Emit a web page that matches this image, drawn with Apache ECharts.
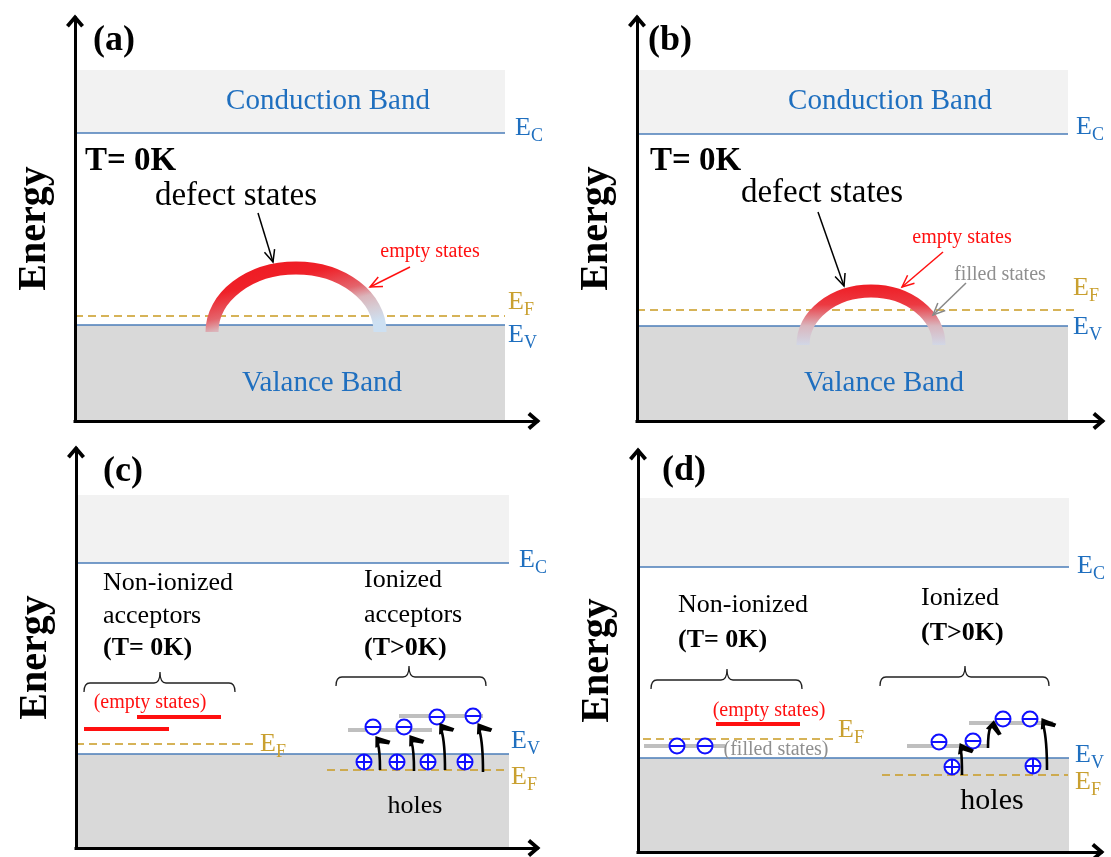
<!DOCTYPE html>
<html><head><meta charset="utf-8">
<script src="https://cdn.jsdelivr.net/npm/echarts@6/dist/echarts.min.js"></script>
<style>html,body{margin:0;padding:0;background:#fff}#c{width:1111px;height:857px}</style>
</head><body><div id="c"></div>
<script>
// ================= DATA (panel-local units: position x, energy y) =================
const panelLetters = ['(a)', '(b)', '(c)', '(d)'];
const letterAnchor = [[18, 380], [11, 380], [27, 376], [24, 381]];
const conductionTop = [351, 351, 353, 354];
const EC = [288, 287, 285, 285];
const EV = [96, 95, 94, 94];
const bandRight = [430, 431, 433, 431];
const ecLabel = [[440, 293], [439, 294], [443, 288], [439, 286]];
const evLabel = [[433, 86], [436, 94], [435, 107], [437, 97]];
const fermiLevels = [[0, 0, 430, 105], [1, 0, 437, 111], [2, 0, 182, 104], [2, 251, 433, 78], [3, 5, 199, 113], [3, 244, 430, 77]];
const efLabel = [[0, 433, 119], [1, 436, 133], [2, 184, 104], [2, 435, 71], [3, 200, 122], [3, 437, 70]];
const bandNames = [[0, 253, 320, 'Conduction Band'], [0, 247, 38, 'Valance Band'], [1, 253, 320, 'Conduction Band'], [1, 247, 38, 'Valance Band']];
const tempTitles = [[0, 10, 260, 'T= 0K'], [1, 13, 260, 'T= 0K']];
const defectTitles = [[0, 161, 225, 'defect states'], [1, 185, 228, 'defect states']];
const defectArcs = [[0, 221, 89, 84, 64], [1, 234, 76, 68, 54]];
const emptyNotes = [[0, 355, 169, 'empty states'], [1, 325, 183, 'empty states'], [2, 74, 145, '(empty states)'], [3, 131, 141, '(empty states)']];
const filledNotes = [[1, 363, 146, 'filled states'], [3, 138, 102, '(filled states)']];
const blackPointers = [[0, 183, 208, 198, 159], [1, 181, 209, 207, 135]];
const redPointers = [[0, 335, 154, 295, 134], [1, 306, 169, 265, 134]];
const grayPointers = [[1, 329, 138, 296, 106]];
const acceptorLines = [[2, 27, 265, 'Non-ionized'], [2, 27, 232, 'acceptors'], [2, 288, 268, 'Ionized'], [2, 288, 233, 'acceptors'], [3, 40, 247, 'Non-ionized'], [3, 283, 254, 'Ionized']];
const tempLines = [[2, 27, 200, '(T= 0K)'], [2, 288, 200, '(T>0K)'], [3, 40, 212, '(T= 0K)'], [3, 283, 219, '(T>0K)']];
const braces = [[2, 8, 159, 84, 165], [2, 260, 410, 333, 171], [3, 13, 164, 89, 172], [3, 242, 411, 327, 175]];
const emptyLevels = [[2, 8, 93, 119], [2, 61, 145, 131], [3, 78, 162, 128]];
const filledLevels = [[2, 272, 356, 118], [2, 323, 407, 132], [3, 6, 87, 106], [3, 269, 350, 106], [3, 331, 415, 129]];
const electrons = [[2, 297, 121], [2, 328, 121], [2, 361, 131], [2, 397, 132], [3, 39, 106], [3, 67, 106], [3, 301, 110], [3, 335, 111], [3, 365, 133], [3, 392, 133]];
const holes = [[2, 288, 86], [2, 321, 86], [2, 352, 86], [2, 389, 86], [3, 314, 85], [3, 395, 86]];
const excitations = [[2, 304, 78, 300, 110], [2, 338, 77, 334, 111], [2, 369, 78, 364, 123], [2, 407, 76, 402, 123], [3, 324, 77, 322, 107], [3, 350, 104, 355, 130], [3, 409, 82, 404, 132]];
const holesLabels = [[2, 339, 42, 'holes'], [3, 354, 51, 'holes']];
const axisTitle = 'Energy';

// ================= STYLE / LAYOUT =================
const SERIF = '"Liberation Serif", "Times New Roman", serif';
const GRIDS = [
  { left: 75, top: 18, width: 462, height: 403 },
  { left: 637, top: 18, width: 465, height: 403 },
  { left: 76, top: 449, width: 461, height: 399 },
  { left: 638, top: 451, width: 463, height: 401 }
];
const BLUE_TEXT = '#1f6fbf', BLUE_LINE = '#4a7db8', GOLD = '#c99a22', GOLD_TEXT = '#c9a030';
const RED = '#ff1010', GRAY_TEXT = '#8f8f8f', GRAY_BAR = '#bfbfbf', CHARGE = '#1010ff';
const holesFont = [0, 0, 26, 30];
const CHEVRON = 'path://M50,0 L100,58 L84,72 L50,32 L16,72 L0,58 Z';

const arcGradients = [
  new echarts.graphic.LinearGradient(0.45, 0, 0.55, 1, [
    { offset: 0, color: '#ef1c24' }, { offset: 0.2, color: '#ef2129' }, { offset: 0.5, color: '#e4646c' },
    { offset: 0.65, color: '#dbb4ba' }, { offset: 0.82, color: '#d6cdd5' }, { offset: 1, color: '#cde0f2' }]),
  new echarts.graphic.LinearGradient(0, 0, 0, 1, [
    { offset: 0, color: '#ef1c24' }, { offset: 0.3, color: '#ec3a42' }, { offset: 0.62, color: '#d9b7bf' },
    { offset: 1, color: '#cfe2f3' }])
];

function rectEl(api, x1, y1, x2, y2, fill) {
  const a = api.coord([x1, y2]), b = api.coord([x2, y1]);
  return { type: 'rect', shape: { x: a[0], y: a[1], width: b[0] - a[0], height: b[1] - a[1] }, style: { fill } };
}
function lineEl(api, x1, y1, x2, y2, stroke, lw, dash) {
  const a = api.coord([x1, y1]), b = api.coord([x2, y2]);
  const st = { stroke, lineWidth: lw };
  if (dash) st.lineDash = dash;
  return { type: 'line', shape: { x1: a[0], y1: a[1], x2: b[0], y2: b[1] }, style: st };
}
function textEl(api, x, y, text, font, fill, align) {
  const c = api.coord([x, y]);
  const al = align || 'center';
  return { type: 'text', x: c[0], y: c[1], style: { text, font, fill, align: al, textAlign: al, verticalAlign: 'middle', textVerticalAlign: 'middle' } };
}
function levelLabel(api, x, y, sub, color) {
  const c = api.coord([x, y]);
  return { type: 'group', children: [
    { type: 'text', x: c[0], y: c[1], style: { text: 'E', font: '26px ' + SERIF, fill: color, align: 'left', textAlign: 'left', verticalAlign: 'middle', textVerticalAlign: 'middle' } },
    { type: 'text', x: c[0] + 16, y: c[1] + 8, style: { text: sub, font: '18px ' + SERIF, fill: color, align: 'left', textAlign: 'left', verticalAlign: 'middle', textVerticalAlign: 'middle' } }
  ] };
}
function pointerEl(api, it, color) {
  const s = api.coord([it[1], it[2]]), e = api.coord([it[3], it[4]]);
  const ang = Math.atan2(e[1] - s[1], e[0] - s[0]);
  const L = 13, w = 0.42;
  const h1 = [e[0] - L * Math.cos(ang - w), e[1] - L * Math.sin(ang - w)];
  const h2 = [e[0] - L * Math.cos(ang + w), e[1] - L * Math.sin(ang + w)];
  return { type: 'group', children: [
    { type: 'line', shape: { x1: s[0], y1: s[1], x2: e[0], y2: e[1] }, style: { stroke: color, lineWidth: 1.5 } },
    { type: 'polyline', shape: { points: [h1, e, h2] }, style: { stroke: color, lineWidth: 1.5, fill: 'none' } }
  ] };
}
function chargeEl(api, it, plus) {
  const c = api.coord([it[1], it[2]]); const r = 7.5;
  const ch = [
    { type: 'circle', shape: { cx: c[0], cy: c[1], r }, style: { fill: '#fff', stroke: CHARGE, lineWidth: 2 } },
    { type: 'line', shape: { x1: c[0] - r, y1: c[1], x2: c[0] + r, y2: c[1] }, style: { stroke: CHARGE, lineWidth: 2 } }
  ];
  if (plus) ch.push({ type: 'line', shape: { x1: c[0], y1: c[1] - r, x2: c[0], y2: c[1] + r }, style: { stroke: CHARGE, lineWidth: 2 } });
  return { type: 'group', children: ch };
}
function exciteEl(api, it) {
  const b = api.coord([it[1], it[2]]), t = api.coord([it[3], it[4]]);
  const c = [b[0], t[1] + 0.4 * (b[1] - t[1])];
  let ux = t[0] - c[0], uy = t[1] - c[1]; const n = Math.hypot(ux, uy); ux /= n; uy /= n;
  const nx = -uy, ny = ux;
  const P = (a, q) => [t[0] + ux * a + nx * q, t[1] + uy * a + ny * q];
  const head = [P(2, 0), P(-7, 13), P(-10, 10.5), P(-6, 2), P(-9, -1.2), P(-9, -3.5)];
  const se = P(-6, 0);
  return { type: 'group', children: [
    { type: 'path', shape: { pathData: 'M' + b[0] + ',' + b[1] + ' Q' + c[0] + ',' + c[1] + ' ' + se[0] + ',' + se[1] }, style: { stroke: '#000', lineWidth: 2.6, fill: 'none' } },
    { type: 'polygon', shape: { points: head }, style: { fill: '#000' } }
  ] };
}
function braceEl(api, it) {
  const l = api.coord([it[1], it[4]]), r = api.coord([it[2], it[4]]), t = api.coord([it[3], it[4]]);
  const y = l[1], yb = y + 9, yt = y - 11, q = 6;
  const d = 'M' + l[0] + ',' + yb + ' Q' + l[0] + ',' + y + ' ' + (l[0] + q) + ',' + y +
    ' L' + (t[0] - q) + ',' + y + ' Q' + t[0] + ',' + y + ' ' + t[0] + ',' + yt +
    ' Q' + t[0] + ',' + y + ' ' + (t[0] + q) + ',' + y +
    ' L' + (r[0] - q) + ',' + y + ' Q' + r[0] + ',' + y + ' ' + r[0] + ',' + yb;
  return { type: 'path', shape: { pathData: d }, style: { stroke: '#222', lineWidth: 1.3, fill: 'none' } };
}
function arcEl(api, it, p) {
  const c = api.coord([it[1], it[2]]);
  const rx = api.size([it[3], 0])[0], ry = api.size([0, it[4]])[1];
  const k = 0.5523, cx = c[0], cy = c[1];
  const d = 'M' + (cx - rx) + ',' + cy + ' C' + (cx - rx) + ',' + (cy - k * ry) + ' ' + (cx - k * rx) + ',' + (cy - ry) + ' ' + cx + ',' + (cy - ry) +
    ' C' + (cx + k * rx) + ',' + (cy - ry) + ' ' + (cx + rx) + ',' + (cy - k * ry) + ' ' + (cx + rx) + ',' + cy;
  return { type: 'path', shape: { pathData: d }, style: { stroke: arcGradients[p], lineWidth: 13, fill: 'none' } };
}

const series = [];
function addSeries(items, z, build) {
  for (let p = 0; p < 4; p++) {
    const list = items.filter(it => it[0] === p);
    if (!list.length) continue;
    series.push({
      type: 'custom', xAxisIndex: p, yAxisIndex: p, z, silent: true, animation: false, clip: false,
      data: list.map(it => [it[1], it[2]]),
      renderItem: (params, api) => build(list[params.dataIndex], api, p)
    });
  }
}

const bandRows = EC.map((e, p) => [p, 2, e]);
addSeries(bandRows, 1, (it, api, p) => ({ type: 'group', children: [
  rectEl(api, 2, EC[p], bandRight[p], conductionTop[p], '#f2f2f2'),
  rectEl(api, 2, 0, bandRight[p], EV[p], '#d9d9d9')
] }));
addSeries(bandRows, 2, (it, api, p) => ({ type: 'group', children: [
  lineEl(api, 0, EC[p], bandRight[p], EC[p], BLUE_LINE, 1.6),
  lineEl(api, 0, EV[p], bandRight[p], EV[p], BLUE_LINE, 1.6)
] }));
addSeries(fermiLevels, 2, (it, api) => lineEl(api, it[1], it[3], it[2], it[3], GOLD, 1.6, [8, 5]));
addSeries(ecLabel.map((l, p) => [p, l[0], l[1]]), 7, (it, api) => levelLabel(api, it[1], it[2], 'C', BLUE_TEXT));
addSeries(evLabel.map((l, p) => [p, l[0], l[1]]), 7, (it, api) => levelLabel(api, it[1], it[2], 'V', BLUE_TEXT));
addSeries(efLabel, 7, (it, api) => levelLabel(api, it[1], it[2], 'F', GOLD_TEXT));
addSeries(letterAnchor.map((l, p) => [p, l[0], l[1]]), 7, (it, api, p) => textEl(api, it[1], it[2], panelLetters[p], 'bold 36px ' + SERIF, '#000', 'left'));
addSeries(bandNames, 7, (it, api) => textEl(api, it[1], it[2], it[3], '29px ' + SERIF, BLUE_TEXT));
addSeries(tempTitles, 7, (it, api) => textEl(api, it[1], it[2], it[3], 'bold 33px ' + SERIF, '#000', 'left'));
addSeries(defectTitles, 7, (it, api) => textEl(api, it[1], it[2], it[3], '33px ' + SERIF, '#000'));
addSeries(defectArcs, 3, (it, api, p) => arcEl(api, it, p));
addSeries(emptyNotes, 7, (it, api) => textEl(api, it[1], it[2], it[3], '20px ' + SERIF, RED));
addSeries(filledNotes, 7, (it, api) => textEl(api, it[1], it[2], it[3], '20px ' + SERIF, GRAY_TEXT));
addSeries(blackPointers, 6, (it, api) => pointerEl(api, it, '#000'));
addSeries(redPointers, 6, (it, api) => pointerEl(api, it, RED));
addSeries(grayPointers, 6, (it, api) => pointerEl(api, it, '#888'));
addSeries(acceptorLines, 7, (it, api) => textEl(api, it[1], it[2], it[3], '26px ' + SERIF, '#000', 'left'));
addSeries(tempLines, 7, (it, api) => textEl(api, it[1], it[2], it[3], 'bold 26px ' + SERIF, '#000', 'left'));
addSeries(braces, 6, (it, api) => braceEl(api, it));
addSeries(emptyLevels, 3, (it, api) => lineEl(api, it[1], it[3], it[2], it[3], RED, 4));
addSeries(filledLevels, 3, (it, api) => lineEl(api, it[1], it[3], it[2], it[3], GRAY_BAR, 4));
addSeries(electrons, 5, (it, api) => chargeEl(api, it, false));
addSeries(holes, 5, (it, api) => chargeEl(api, it, true));
addSeries(excitations, 6, (it, api) => exciteEl(api, it));
addSeries(holesLabels, 7, (it, api, p) => textEl(api, it[1], it[2], it[3], holesFont[p] + 'px ' + SERIF, '#000'));

const axisLineStyle = { show: true, onZero: false, symbol: ['none', CHEVRON], symbolSize: [18, 13], symbolOffset: [0, -3], lineStyle: { color: '#000', width: 3, cap: 'square' } };
const option = {
  backgroundColor: '#fff',
  animation: false,
  grid: GRIDS.map(g => Object.assign({ containLabel: false }, g)),
  xAxis: GRIDS.map((g, i) => ({ gridIndex: i, type: 'value', min: 0, max: g.width, z: 10,
    axisLine: axisLineStyle, axisTick: { show: false }, axisLabel: { show: false }, splitLine: { show: false } })),
  yAxis: GRIDS.map((g, i) => ({ gridIndex: i, type: 'value', min: 0, max: g.height, z: 10,
    name: axisTitle, nameLocation: 'middle', nameGap: 20, nameRotate: 90,
    nameTextStyle: { fontSize: 40, fontWeight: 'bold', fontFamily: SERIF, color: '#000', padding: [0, 18, 0, 0] },
    axisLine: axisLineStyle, axisTick: { show: false }, axisLabel: { show: false }, splitLine: { show: false } })),
  series
};
const chart = echarts.init(document.getElementById('c'), null, { renderer: 'canvas' });
chart.setOption(option);
</script>
</body></html>
